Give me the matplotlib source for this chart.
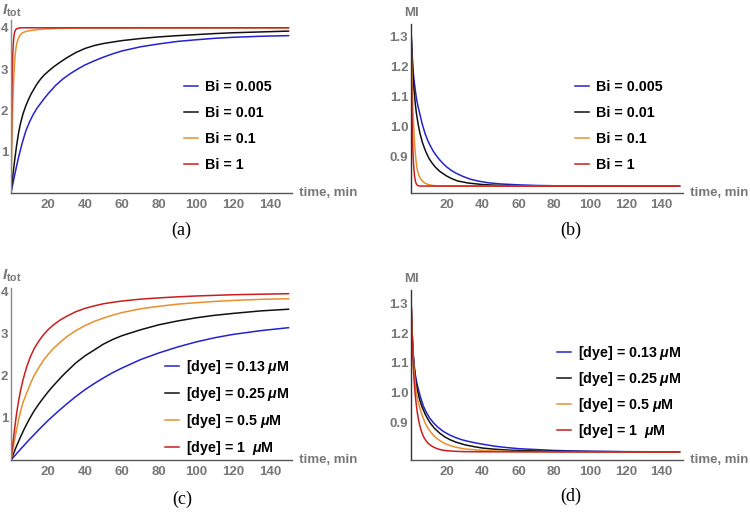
import matplotlib
matplotlib.use('Agg')
import matplotlib.pyplot as plt

plt.rcParams['font.family'] = ['Liberation Sans', 'DejaVu Sans']
plt.rcParams['mathtext.fontset'] = 'custom'
plt.rcParams['mathtext.rm'] = 'Liberation Sans:bold'
plt.rcParams['mathtext.it'] = 'Liberation Sans:italic:bold'
plt.rcParams['mathtext.bf'] = 'Liberation Sans:bold'

# ---- data ----
# (a) I_tot vs time for several Bi
a_t_blue = [0, 2, 4, 6, 8, 10, 12, 14, 17.5, 20, 24, 28, 32, 36, 40, 45, 50, 55, 60, 70, 80, 90, 100, 110, 120, 135, 150]
a_blue = [0, 0.44, 0.85, 1.2, 1.5, 1.72, 1.9, 2.05, 2.26, 2.4, 2.6, 2.76, 2.89, 3.0, 3.1, 3.2, 3.29, 3.37,
          3.44, 3.54, 3.61, 3.67, 3.71, 3.745, 3.77, 3.795, 3.81]
a_t_black = [0, 1, 2, 3, 4, 5, 6.5, 8, 9.4, 11, 13.9, 16, 18, 20, 22.9, 26, 30, 35, 40, 45, 50, 60, 70, 80, 90,
             100, 110, 120, 135, 150]
a_black = [0, 0.42, 0.8, 1.14, 1.43, 1.66, 1.92, 2.11, 2.26, 2.41, 2.63, 2.76, 2.86, 2.94, 3.05, 3.15, 3.27,
           3.4, 3.5, 3.57, 3.62, 3.69, 3.74, 3.78, 3.81, 3.835, 3.86, 3.88, 3.9, 3.92]
a_t_orange = [0, 0.25, 0.5, 0.75, 1, 1.5, 2, 2.5, 3, 4, 5, 6, 7, 8.5, 10, 12.5, 15, 20, 25, 30, 40, 150]
a_orange = [0, 0.7, 1.3, 1.8, 2.2, 2.8, 3.2, 3.45, 3.6, 3.75, 3.83, 3.87, 3.895, 3.915, 3.93, 3.945, 3.96,
            3.975, 3.985, 3.99, 3.995, 4.0]
a_t_red = [0, 0.2, 0.4, 0.6, 0.8, 1, 1.3, 1.6, 2, 2.5, 3, 4, 5, 150]
a_red = [0, 1.1, 2.0, 2.65, 3.1, 3.4, 3.65, 3.8, 3.9, 3.95, 3.975, 3.99, 4.0, 4.0]

# (b) MI vs time for several Bi
b_t_blue = [0, 0.25, 0.5, 1, 1.5, 2, 2.6, 3.2, 4, 5, 6.3, 7.8, 9.5, 11, 12.5, 14, 16, 18, 20, 22.5, 25, 29,
            33, 38, 43, 50, 60, 70, 80, 100, 150]
b_blue = [1.32, 1.29, 1.26, 1.2, 1.165, 1.14, 1.112, 1.088, 1.065, 1.04, 1.008, 0.978, 0.952, 0.934, 0.918,
          0.905, 0.89, 0.877, 0.866, 0.855, 0.846, 0.835, 0.826, 0.819, 0.814, 0.81, 0.807, 0.805, 0.804,
          0.8035, 0.803]
b_t_black = [0, 0.25, 0.5, 1, 1.5, 2, 2.5, 3, 4, 5, 6.5, 8.2, 10, 11.7, 13.4, 16, 20, 23, 26, 32, 40, 50, 70, 150]
b_black = [1.32, 1.285, 1.25, 1.18, 1.135, 1.1, 1.07, 1.045, 1.008, 0.978, 0.945, 0.918, 0.895, 0.88, 0.867,
           0.852, 0.836, 0.827, 0.82, 0.813, 0.808, 0.805, 0.803, 0.803]
b_t_orange = [0, 0.25, 0.5, 0.75, 1, 1.35, 1.7, 2.05, 2.4, 2.8, 3.2, 3.8, 4.5, 5.2, 6, 7, 8, 9.6, 12, 15, 20, 150]
b_orange = [1.32, 1.245, 1.18, 1.12, 1.07, 1.02, 0.978, 0.94, 0.912, 0.887, 0.867, 0.85, 0.837, 0.829, 0.822,
            0.816, 0.812, 0.808, 0.805, 0.8035, 0.803, 0.803]
b_t_red = [0, 0.2, 0.4, 0.6, 0.8, 1, 1.2, 1.4, 1.6, 2, 2.5, 3, 3.5, 4, 5, 150]
b_red = [1.32, 1.2, 1.1, 1.025, 0.97, 0.93, 0.9, 0.877, 0.86, 0.836, 0.818, 0.81, 0.806, 0.804, 0.803, 0.803]

# (c) I_tot vs time for several dye concentrations
c_t_blue = [0, 5, 10, 15, 20, 25, 30, 35, 40, 45, 50, 55, 60, 70, 80, 90, 100, 110, 120, 135, 150]
c_blue = [0, 0.25, 0.49, 0.72, 0.94, 1.14, 1.33, 1.51, 1.675, 1.82, 1.955, 2.08, 2.19, 2.39, 2.55, 2.69,
          2.81, 2.91, 2.99, 3.08, 3.15]
c_t_black = [0, 2.5, 5, 7.5, 10, 12.5, 15, 17.5, 20, 22.5, 25, 27.5, 30, 35, 40, 45, 50, 55, 60, 70, 80, 90,
             100, 110, 120, 135, 150]
c_black = [0, 0.28, 0.535, 0.77, 0.98, 1.17, 1.33, 1.48, 1.62, 1.75, 1.87, 1.99, 2.1, 2.31, 2.48, 2.62, 2.76,
           2.87, 2.96, 3.1, 3.22, 3.31, 3.385, 3.445, 3.49, 3.55, 3.59]
c_t_orange = [0, 1, 2, 3.5, 5, 6.5, 8.5, 10.5, 12.5, 15, 17.5, 20, 23, 26.5, 30, 35, 40, 45, 50, 55, 60, 70, 80,
              90, 100, 110, 120, 135, 150]
c_orange = [0, 0.25, 0.49, 0.83, 1.13, 1.37, 1.6, 1.82, 2.01, 2.2, 2.37, 2.51, 2.66, 2.8, 2.93, 3.08, 3.2, 3.3,
            3.38, 3.45, 3.51, 3.6, 3.66, 3.71, 3.745, 3.775, 3.8, 3.825, 3.84]
c_t_red = [0, 1, 2, 3, 4, 5, 6.5, 8.5, 10.5, 12.5, 15, 17.5, 20, 23, 26.5, 30, 35, 40, 45, 50, 55, 60, 70, 80,
           90, 100, 120, 150]
c_red = [0, 0.39, 0.76, 1.1, 1.38, 1.62, 1.91, 2.22, 2.46, 2.65, 2.83, 2.98, 3.1, 3.22, 3.33, 3.42, 3.53, 3.61,
         3.67, 3.72, 3.755, 3.785, 3.83, 3.86, 3.885, 3.905, 3.935, 3.96]

# (d) MI vs time for several dye concentrations
d_t_blue = [0, 0.3, 0.6, 0.9, 1.3, 1.8, 2.4, 3.2, 4.1, 5.5, 6.9, 8.5, 10.5, 12.5, 15, 18, 21.5, 25, 28.3, 33,
            38, 43, 47, 53, 60, 70, 80, 90, 100, 120, 150]
d_blue = [1.32, 1.26, 1.21, 1.17, 1.128, 1.092, 1.062, 1.035, 1.012, 0.982, 0.956, 0.935, 0.915, 0.9, 0.885,
          0.871, 0.859, 0.85, 0.843, 0.836, 0.83, 0.825, 0.821, 0.817, 0.813, 0.81, 0.807, 0.8055, 0.8045,
          0.803, 0.802]
d_t_black = [0, 0.3, 0.6, 0.9, 1.3, 1.8, 2.6, 3.5, 4.7, 6, 8.2, 10.6, 13, 16, 19, 21.8, 25, 30, 35, 40, 47, 55,
             65, 80, 100, 150]
d_black = [1.32, 1.26, 1.208, 1.166, 1.122, 1.083, 1.04, 1.01, 0.98, 0.955, 0.925, 0.9, 0.882, 0.865, 0.852,
           0.843, 0.835, 0.826, 0.82, 0.815, 0.811, 0.808, 0.806, 0.804, 0.803, 0.802]
d_t_orange = [0, 0.3, 0.6, 0.9, 1.3, 1.8, 2.3, 2.8, 3.7, 4.7, 6.2, 7.8, 9.5, 11.5, 13.3, 15.3, 18, 21, 25, 30,
              38, 47, 60, 80, 150]
d_orange = [1.32, 1.258, 1.205, 1.16, 1.112, 1.07, 1.037, 1.01, 0.978, 0.954, 0.925, 0.9, 0.881, 0.865, 0.853,
            0.843, 0.833, 0.825, 0.818, 0.812, 0.808, 0.805, 0.803, 0.8025, 0.802]
d_t_red = [0, 0.3, 0.6, 0.9, 1.3, 1.7, 2.2, 2.8, 3.5, 4.2, 5, 6, 7, 8.3, 9.7, 11.5, 13, 15, 17.5, 20, 25, 30,
           40, 150]
d_red = [1.32, 1.25, 1.19, 1.14, 1.085, 1.045, 1.005, 0.968, 0.935, 0.91, 0.888, 0.868, 0.853, 0.84, 0.83,
         0.822, 0.817, 0.812, 0.808, 0.806, 0.804, 0.803, 0.8025, 0.802]

bi_labels = ['Bi = 0.005', 'Bi = 0.01', 'Bi = 0.1', 'Bi = 1']
dye_labels = [r'[dye] = 0.13 $\mu$M', r'[dye] = 0.25 $\mu$M',
              r'[dye] = 0.5 $\mu$M', r'[dye] = 1  $\mu$M']
x_ticks = [20, 40, 60, 80, 100, 120, 140]
i_ticks = [1, 2, 3, 4]
mi_ticks = [0.9, 1.0, 1.1, 1.2, 1.3]
mi_tick_labels = ['0.9', '1.0', '1.1', '1.2', '1.3']

colors = ['#2323cf', '#111111', '#e8902c', '#cc1d1d']
gray = '#777777'

W, H = 750, 516
fig = plt.figure(figsize=(7.5, 5.16), dpi=100)


def px_axes(left, right, top, bottom):
    return fig.add_axes([left / W, 1 - bottom / H, (right - left) / W, (bottom - top) / H])


def setup(ax, ylim, yticks, yticklabels, ylabel, ylab_xy, ylab_size, left_col):
    ax.set_xlim(0, 152)
    ax.set_ylim(*ylim)
    ax.set_xticks(x_ticks)
    ax.set_yticks(yticks)
    ax.set_yticklabels(yticklabels)
    ax.tick_params(length=0, labelsize=9.5, labelcolor=gray)
    ax.tick_params(axis='x', pad=4.2)
    ax.tick_params(axis='y', pad=2)
    for lab in ax.get_xticklabels() + ax.get_yticklabels():
        lab.set_fontweight('bold')
    for s in ['top', 'right']:
        ax.spines[s].set_visible(False)
    ax.spines['left'].set_color(left_col)
    ax.spines['bottom'].set_color('#555555')
    ax.spines['left'].set_linewidth(1.0)
    ax.spines['bottom'].set_linewidth(1.0)
    ax.patch.set_alpha(0)
    fig.text(ylab_xy[0] / W, 1 - ylab_xy[1] / H, ylabel, color=gray,
             fontsize=ylab_size, fontweight='bold', ha='center', va='center')
    ax.text(1.0, 0, '  time, min', transform=ax.transAxes, color=gray,
            fontsize=9.5, fontweight='bold', ha='left', va='center')


def draw(ax, series, labels, leg_xy, spacing):
    for (t, v), c, lab in zip(series, colors, labels):
        ax.plot(t, v, color=c, lw=1.1, label=lab)
    ax.legend(loc='center left', bbox_to_anchor=(leg_xy[0] / W, 1 - leg_xy[1] / H),
              bbox_transform=fig.transFigure, frameon=False, borderpad=0,
              borderaxespad=0, handlelength=1.0, handletextpad=0.5,
              labelspacing=spacing, prop={'weight': 'bold', 'size': 10.3})


# (a)
ax = px_axes(11, 11 + 152 * 1.85, 193 - 4.2 * 41.3, 193)
setup(ax, (0, 4.2), i_ticks, [str(v) for v in i_ticks], r'$I_{\mathrm{tot}}$', (12, 11), 11, '#8a8a8a')
draw(ax, [(a_t_blue, a_blue), (a_t_black, a_black), (a_t_orange, a_orange), (a_t_red, a_red)],
     bi_labels, (184, 126), 0.82)

# (b)
ax = px_axes(411, 411 + 152 * 1.79, 193.3 - (1.34 - 0.779) * 301.75, 193.3)
setup(ax, (0.779, 1.34), mi_ticks, mi_tick_labels, 'MI', (411, 12.5), 9.5, '#333333')
draw(ax, [(b_t_blue, b_blue), (b_t_black, b_black), (b_t_orange, b_orange), (b_t_red, b_red)],
     bi_labels, (575, 126), 0.82)

# (c)
ax = px_axes(11, 11 + 152 * 1.85, 460 - 4.1 * 42, 460)
setup(ax, (0, 4.1), i_ticks, [str(v) for v in i_ticks], r'$I_{\mathrm{tot}}$', (12, 276), 11, '#8a8a8a')
draw(ax, [(c_t_blue, c_blue), (c_t_black, c_black), (c_t_orange, c_orange), (c_t_red, c_red)],
     dye_labels, (165, 407.5), 0.62)

# (d)
ax = px_axes(411, 411 + 152 * 1.79, 460 - (1.345 - 0.775) * 298.5, 460)
setup(ax, (0.775, 1.345), mi_ticks, mi_tick_labels, 'MI', (411, 279), 9.5, '#333333')
draw(ax, [(d_t_blue, d_blue), (d_t_black, d_black), (d_t_orange, d_orange), (d_t_red, d_red)],
     dye_labels, (556.5, 392.3), 0.56)

for lab, x, y in [('(a)', 181, 230), ('(b)', 571, 230), ('(c)', 182, 499), ('(d)', 571, 496)]:
    fig.text(x / W, 1 - y / H, lab, family='Liberation Serif', fontsize=13,
             ha='center', va='center', color='black')

fig.savefig('out.png', dpi=100)
